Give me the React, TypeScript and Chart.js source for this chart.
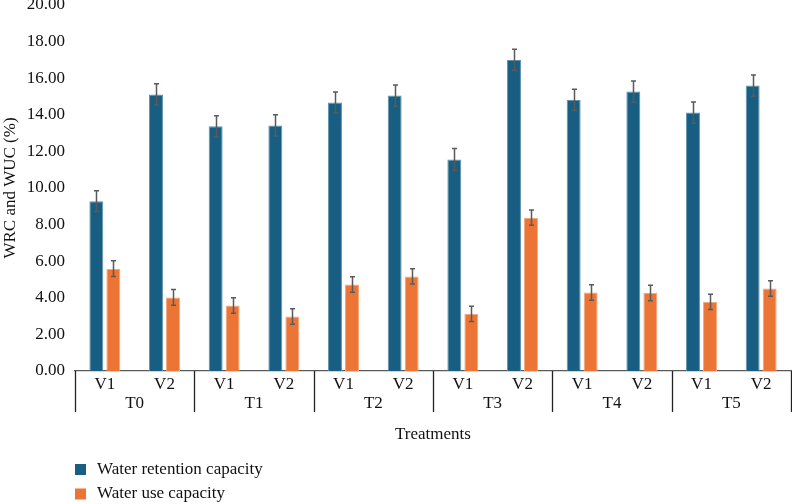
import React, { useEffect, useRef } from "react";
import { Chart, registerables } from "chart.js";

Chart.register(...registerables);

// Treatment groups and the varieties inside each group
const treatments = ["T0", "T1", "T2", "T3", "T4", "T5"];
const varieties = ["V1", "V2"];

// Water retention capacity (%) per treatment/variety, in order T0V1, T0V2, T1V1, ...
const wrcValues = [9.28, 15.11, 13.37, 13.42, 14.67, 15.05, 11.56, 17.0, 14.81, 15.27, 14.12, 15.6];
const wrcErrors = [0.57, 0.58, 0.58, 0.58, 0.57, 0.58, 0.6, 0.58, 0.58, 0.58, 0.58, 0.58];

// Water use capacity (%)
const wucValues = [5.59, 4.02, 3.58, 2.98, 4.73, 5.17, 3.12, 8.38, 4.29, 4.26, 3.78, 4.51];
const wucErrors = [0.43, 0.43, 0.42, 0.42, 0.42, 0.42, 0.42, 0.42, 0.42, 0.42, 0.42, 0.42];

const seriesNames = ["Water retention capacity", "Water use capacity"];
const seriesColors = ["#175e82", "#ec7434"];
const seriesBorders = ["#5f93ae", "#f4a67c"];

const yTitle = "WRC and WUC (%)";
const xTitle = "Treatments";

const FONT = '"Liberation Serif", "Times New Roman", serif';
const FONT_SIZE = 17;

const labels: string[] = [];
treatments.forEach((t) => varieties.forEach((v) => labels.push(`${t} ${v}`)));

const errorBarsPlugin = {
  id: "errorBars",
  afterDatasetsDraw(chart: any) {
    const { ctx } = chart;
    const yScale = chart.scales.y;
    const errs = [wrcErrors, wucErrors];
    ctx.save();
    ctx.strokeStyle = "#5a5a5a";
    ctx.lineWidth = 1.5;
    chart.data.datasets.forEach((ds: any, di: number) => {
      const meta = chart.getDatasetMeta(di);
      meta.data.forEach((bar: any, i: number) => {
        const v = ds.data[i];
        const e = errs[di][i];
        const top = yScale.getPixelForValue(v + e);
        const bot = yScale.getPixelForValue(v - e);
        const x = Math.round(bar.x) + 0.5;
        ctx.beginPath();
        ctx.moveTo(x, top);
        ctx.lineTo(x, bot);
        ctx.moveTo(x - 2.5, top);
        ctx.lineTo(x + 2.5, top);
        ctx.moveTo(x - 2.5, bot);
        ctx.lineTo(x + 2.5, bot);
        ctx.stroke();
      });
    });
    ctx.restore();
  },
};

const groupAxisPlugin = {
  id: "groupAxis",
  afterDraw(chart: any) {
    const { ctx, chartArea } = chart;
    const xScale = chart.scales.x;
    const base = chartArea.bottom;
    const n = labels.length;
    const step = xScale.getPixelForValue(1) - xScale.getPixelForValue(0);
    ctx.save();
    ctx.font = `${FONT_SIZE}px ${FONT}`;
    ctx.fillStyle = "#111";
    ctx.textAlign = "center";
    ctx.textBaseline = "middle";

    // variety labels under each bar pair
    for (let i = 0; i < n; i++) {
      ctx.fillText(varieties[i % varieties.length], xScale.getPixelForValue(i), base + 14);
    }

    // treatment labels and separators
    ctx.strokeStyle = "#222";
    ctx.lineWidth = 1.3;
    const per = varieties.length;
    for (let g = 0; g <= treatments.length; g++) {
      let x: number;
      if (g === treatments.length) x = xScale.getPixelForValue(n - 1) + step / 2;
      else x = xScale.getPixelForValue(g * per) - step / 2;
      x = Math.round(x) + 0.5;
      ctx.beginPath();
      ctx.moveTo(x, base);
      ctx.lineTo(x, base + 41);
      ctx.stroke();
    }
    treatments.forEach((t, g) => {
      const a = xScale.getPixelForValue(g * per);
      const b = xScale.getPixelForValue(g * per + per - 1);
      ctx.fillText(t, (a + b) / 2, base + 33);
    });

    // x-axis title
    ctx.fillText(xTitle, (chartArea.left + chartArea.right) / 2, base + 64);

    // y-axis title
    ctx.save();
    ctx.translate(11, (chartArea.top + chartArea.bottom) / 2);
    ctx.rotate(-Math.PI / 2);
    ctx.fillText(yTitle, 0, 0);
    ctx.restore();

    // legend
    ctx.textAlign = "left";
    seriesNames.forEach((name, i) => {
      const y = base + 93 + i * 24.5;
      ctx.fillStyle = seriesColors[i];
      ctx.fillRect(chartArea.left, y, 11, 11);
      ctx.fillStyle = "#111";
      ctx.fillText(name, chartArea.left + 22, y + 5.5);
    });
    ctx.restore();
  },
};

export default function App() {
  const canvasRef = useRef<HTMLCanvasElement | null>(null);

  useEffect(() => {
    if (!canvasRef.current) return;
    const chart = new Chart(canvasRef.current, {
      type: "bar",
      data: {
        labels,
        datasets: [
          {
            label: seriesNames[0],
            data: wrcValues,
            backgroundColor: seriesColors[0],
            borderColor: seriesBorders[0],
            borderWidth: 1,
            categoryPercentage: 0.57,
            barPercentage: 0.82,
          },
          {
            label: seriesNames[1],
            data: wucValues,
            backgroundColor: seriesColors[1],
            borderColor: seriesBorders[1],
            borderWidth: 1,
            categoryPercentage: 0.57,
            barPercentage: 0.82,
          },
        ],
      },
      options: {
        responsive: false,
        animation: false,
        devicePixelRatio: 1,
        layout: { padding: { top: 5, right: 1, left: 0, bottom: 0 } },
        plugins: {
          legend: { display: false },
          tooltip: { enabled: false },
        },
        scales: {
          x: {
            grid: { display: false, drawTicks: false },
            border: { display: true, color: "#5a5a5a", width: 1.3 },
            ticks: { display: false },
            afterFit: (scale: any) => {
              scale.height = 133;
              scale.paddingLeft = 0;
              scale.paddingRight = 0;
            },
          },
          y: {
            min: 0,
            max: 20,
            grid: { display: false, drawTicks: false },
            border: { display: false },
            ticks: {
              stepSize: 2,
              padding: 10,
              color: "#111",
              font: { family: FONT, size: FONT_SIZE },
              callback: (v: any) => Number(v).toFixed(2),
            },
            afterFit: (scale: any) => {
              scale.width = 75;
              scale.paddingTop = 0;
              scale.paddingBottom = 0;
            },
          },
        },
      },
      plugins: [errorBarsPlugin, groupAxisPlugin],
    });
    return () => chart.destroy();
  }, []);

  return (
    <div style={{ position: "absolute", left: 0, top: 0, width: 792, height: 504, background: "#fff" }}>
      <canvas ref={canvasRef} width={792} height={504} />
    </div>
  );
}
